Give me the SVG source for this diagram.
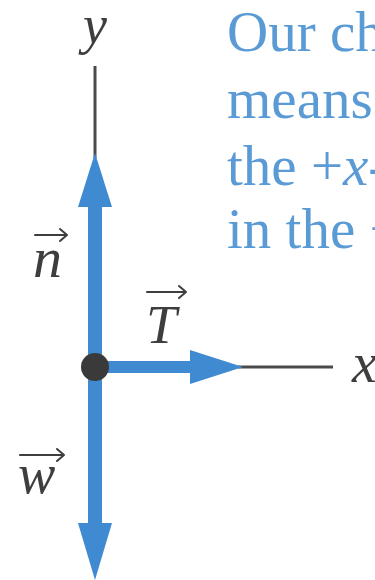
<svg xmlns="http://www.w3.org/2000/svg" width="375" height="580" viewBox="0 0 375 580">
  <style>
    .axis { stroke: #4a4a4a; stroke-width: 3; fill: none; }
    .vec { fill: #3f8ad0; }
    .lbl { font-family: "Liberation Serif", "Times New Roman", serif; font-style: italic; fill: #3e3e3e; }
    .ovr { stroke: #3e3e3e; stroke-width: 2; fill: none; stroke-linecap: round; stroke-linejoin: round; }
    .body { font-family: "Liberation Serif", "Times New Roman", serif; font-size: 57px; fill: #5b9bd5; }
  </style>
  <rect width="375" height="580" fill="#ffffff"/>
  <g id="connectors">
    <line class="axis" x1="95" y1="66" x2="95" y2="158"/>
    <line class="axis" x1="238" y1="367" x2="333" y2="367"/>
  </g>
  <g id="vector-n">
    <rect class="vec" x="88" y="205" width="14" height="162"/>
    <polygon class="vec" points="95,153 78,207 112,207"/>
  </g>
  <g id="vector-w">
    <rect class="vec" x="88" y="367" width="14" height="158"/>
    <polygon class="vec" points="78,523 112,523 95,580"/>
  </g>
  <g id="vector-T">
    <rect class="vec" x="95" y="361" width="97" height="12"/>
    <polygon class="vec" points="190,350 190,384 243,367"/>
  </g>
  <g id="origin">
    <circle cx="95" cy="367" r="14" fill="#3a3a3a"/>
  </g>
  <g id="label-y">
    <text class="lbl" x="95" y="43" font-size="54" text-anchor="middle">y</text>
  </g>
  <g id="label-x">
    <text class="lbl" x="352" y="382" font-size="56">x</text>
  </g>
  <g id="label-n">
    <path class="ovr" d="M35,235 H67 M60,229 L67,235 L60,241"/>
    <text class="lbl" x="33" y="277" font-size="58">n</text>
  </g>
  <g id="label-T">
    <path class="ovr" d="M147,292 H186 M179,286 L186,292 L179,298"/>
    <text class="lbl" x="146" y="343" font-size="55">T</text>
  </g>
  <g id="label-w">
    <path class="ovr" d="M20,455 H64 M57,449 L64,455 L57,461"/>
    <text class="lbl" x="18" y="493" font-size="56">w</text>
  </g>
  <g id="caption">
    <text class="body" x="227" y="51">Our ch</text>
    <text class="body" x="227" y="118">means</text>
    <text class="body" x="227" y="185">the +<tspan font-style="italic">x</tspan>-</text>
    <text class="body" x="227" y="248">in the +</text>
  </g>
</svg>
